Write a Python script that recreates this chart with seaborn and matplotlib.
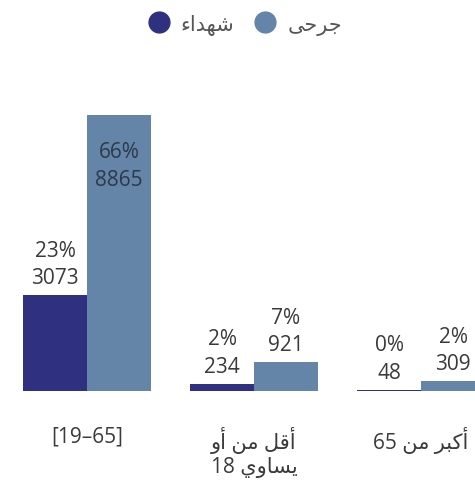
import numpy as np
import pandas as pd
import matplotlib
matplotlib.use("Agg")
import matplotlib.pyplot as plt
from matplotlib.lines import Line2D
import seaborn as sns

# data (Arabic written in presentation forms, visual order, since matplotlib does no shaping)
groups = ["[19\u201365]",
          "\uFEED\uFE83 \uFEE6\uFEE3 \uFEDE\uFED7\uFE83\n18 \uFEF1\uFEED\uFE8E\uFEB4\uFEF3",
          "65 \uFEE6\uFEE3 \uFEAE\uFE92\uFEDB\uFE83"]
series = ["\uFE80\uFE8D\uFEAA\uFEEC\uFEB7",   # martyrs
          "\uFEF0\uFEA3\uFEAE\uFE9F"]         # wounded
martyrs = [3073, 234, 48]
wounded = [8865, 921, 309]

colors = ["#2f3180", "#6485a8"]
text_col = "#3a3a3a"

sns.set_theme(style="white")
plt.rcParams['font.family'] = ['Open Sans', 'DejaVu Sans']

df = pd.DataFrame({
    "group": groups * 2,
    "series": [series[0]] * 3 + [series[1]] * 3,
    "value": martyrs + wounded,
})
total = df["value"].sum()

fig = plt.figure(figsize=(4.75, 4.81), dpi=100)
ax = fig.add_axes([0, 0.185, 1, 0.574])
sns.barplot(data=df, x="group", y="value", hue="series", hue_order=series,
            order=groups, palette=colors, width=0.766, saturation=1,
            legend=False, ax=ax, linewidth=0)

ax.set_xlim(-0.521, 2.323)
ax.set_ylim(0, max(wounded))
vmax = max(wounded)
fs = 15
for cont in ax.containers:
    for bar in cont:
        h = bar.get_height()
        lab = "{:.0f}%\n{}".format(h / total * 100, int(h))
        x = bar.get_x() + bar.get_width() / 2
        if h == vmax:
            # tallest bar: label sits inside the bar
            ax.annotate(lab, (x, h), xytext=(0, -19), textcoords="offset points",
                        ha="center", va="top", fontsize=fs, color="#2a3a4a",
                        linespacing=1.4, annotation_clip=False)
        else:
            ax.annotate(lab, (x, h), xytext=(0, 5), textcoords="offset points",
                        ha="center", va="bottom", fontsize=fs, color=text_col,
                        linespacing=1.4, annotation_clip=False)

sns.despine(ax=ax, left=True, bottom=True)
ax.set_yticks([])
ax.set_xlabel("")
ax.set_ylabel("")
ax.tick_params(axis="x", length=0, pad=25, labelsize=fs, labelcolor=text_col)
for t in ax.get_xticklabels():
    t.set_linespacing(1.2)

handles = [Line2D([], [], marker="o", linestyle="none", markersize=15,
                  markerfacecolor=c, markeredgecolor=c) for c in colors]
fig.legend(handles, series, loc="center", bbox_to_anchor=(0.505, 0.948),
           ncol=2, frameon=False, markerfirst=True, handletextpad=0.05,
           columnspacing=0.5, prop={"size": 15}, labelcolor="#555555")

fig.savefig("out.png", dpi=100)
